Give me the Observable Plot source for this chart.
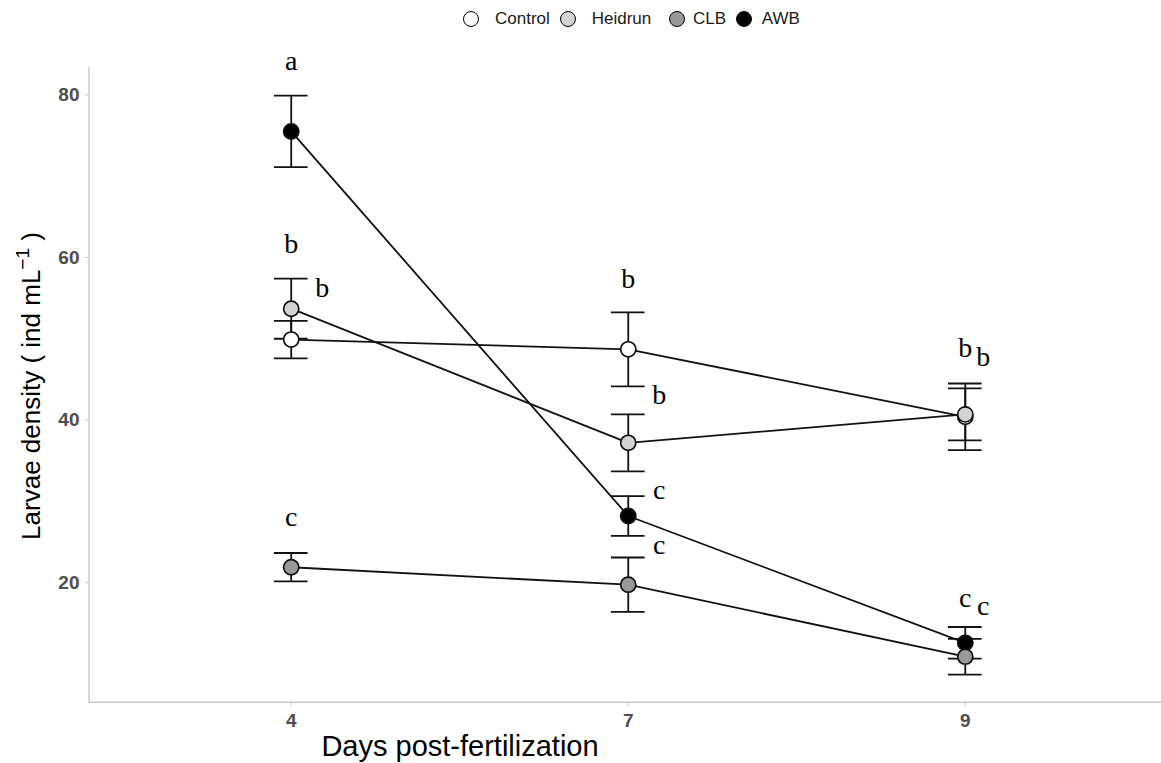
<!DOCTYPE html>
<html>
<head>
<meta charset="utf-8">
<script src="https://cdn.jsdelivr.net/npm/d3@7"></script>
<script src="https://cdn.jsdelivr.net/npm/@observablehq/plot@0.6"></script>
<style>
  html, body { margin: 0; padding: 0; background: #fff; overflow: hidden; }
  #legend { position: relative; width: 1161px; height: 40px; font-family: "Liberation Sans", Arial, sans-serif; }
  #legend .key { position: absolute; width: 14px; height: 14px; border: 1.6px solid #000; border-radius: 50%; top: 10.5px; }
  #legend .lab { position: absolute; top: 8px; font-size: 17px; line-height: 22px; color: #1a1a1a; }
  #chart svg g[aria-label$="tick label"] text { font-size: 19px !important; font-weight: bold !important; }
</style>
</head>
<body>
<div id="legend"></div>
<div id="chart"></div>
<script>
// ---- data ----
const days = ["4", "7", "9"];
const seriesNames = ["Control", "Heidrun", "CLB", "AWB"];
const seriesFill = ["#ffffff", "#d3d3d3", "#999999", "#000000"];
const drawOrder = ["AWB", "CLB", "Control", "Heidrun"];

const controlMean = [49.9, 48.7, 40.4];
const controlSE   = [2.3, 4.55, 4.1];
const heidrunMean = [53.7, 37.2, 40.7];
const heidrunSE   = [3.7, 3.5, 3.2];
const clbMean     = [21.9, 19.75, 10.9];
const clbSE       = [1.75, 3.35, 2.2];
const awbMean     = [75.5, 28.2, 12.6];
const awbSE       = [4.4, 2.45, 1.95];

const yTicks = [20, 40, 60, 80];

// significance letters (value = letter baseline, data units)
const labelDay    = ["4", "4", "4", "4", "7", "7", "7", "7", "9", "9", "9", "9"];
const labelLetter = ["a", "b", "b", "c", "b", "b", "c", "c", "b", "b", "c", "c"];
const labelValue  = [83.1, 60.6, 55.1, 27.0, 56.3, 42.0, 30.3, 23.5, 47.8, 46.7, 17.0, 16.0];
const labelPlace  = ["above", "above", "beside", "above", "above", "beside", "beside", "beside", "above", "near", "above", "near"];

// ---- build table ----
const means = {Control: controlMean, Heidrun: heidrunMean, CLB: clbMean, AWB: awbMean};
const ses = {Control: controlSE, Heidrun: heidrunSE, CLB: clbSE, AWB: awbSE};
const fillOf = Object.fromEntries(seriesNames.map((s, i) => [s, seriesFill[i]]));
const rows = [];
for (const s of drawOrder) {
  days.forEach((d, i) => {
    rows.push({series: s, pos: i + 1, mean: means[s][i], lo: means[s][i] - ses[s][i], hi: means[s][i] + ses[s][i]});
  });
}
const labels = labelDay.map((d, i) => ({pos: days.indexOf(d) + 1, letter: labelLetter[i], value: labelValue[i], place: labelPlace[i]}));
const placeDx = {above: 0, beside: 31, near: 18};

const yMin = 5.3, yMax = 83.4, xMin = 0.4, xMax = 3.6;
const capHalf = 0.05;
const ink = "#111111";
const axisGray = "#c8c8c8";
const sw = 1.8;

const chart = Plot.plot({
  width: 1161,
  height: 723,
  marginLeft: 88.5,
  marginRight: 0,
  marginTop: 26.7,
  marginBottom: 61.3,
  style: {background: "white", fontFamily: "Liberation Sans, Arial, sans-serif", overflow: "visible"},
  x: {type: "linear", domain: [xMin, xMax], range: [88.5, 1167]},
  y: {domain: [yMin, yMax]},
  marks: [
    Plot.ruleY([yMin], {x1: xMin, x2: xMax, stroke: axisGray, strokeWidth: 1.4}),
    Plot.ruleX([xMin], {y1: yMin, y2: yMax, stroke: axisGray, strokeWidth: 1.4}),
    Plot.axisY({ticks: yTicks, tickSize: 3.5, tickPadding: 6, stroke: axisGray, fill: "#4d4d4d",
      fontSize: 19, fontWeight: "bold", label: null}),
    Plot.axisX({ticks: [1, 2, 3], tickFormat: d => days[d - 1], tickSize: 4, tickPadding: 7,
      stroke: axisGray, fill: "#4d4d4d", fontSize: 19, fontWeight: "bold", label: null}),
    Plot.line(rows, {x: "pos", y: "mean", z: "series", stroke: ink, strokeWidth: sw}),
    Plot.ruleX(rows, {x: "pos", y1: "lo", y2: "hi", stroke: ink, strokeWidth: sw}),
    Plot.ruleY(rows, {y: "hi", x1: d => d.pos - capHalf, x2: d => d.pos + capHalf, stroke: ink, strokeWidth: sw}),
    Plot.ruleY(rows, {y: "lo", x1: d => d.pos - capHalf, x2: d => d.pos + capHalf, stroke: ink, strokeWidth: sw}),
    Plot.dot(rows, {x: "pos", y: "mean", r: 7.6, fill: d => fillOf[d.series], stroke: ink, strokeWidth: 1.7}),
    Plot.text(labels, {x: "pos", y: "value", text: "letter", lineAnchor: "bottom",
      fontFamily: "Liberation Serif, Times New Roman, serif", fontSize: 28, fill: "#000"})
  ]
});

document.getElementById("chart").appendChild(chart);

// letters offset (per placement)
{
  const texts = d3.select(chart).selectAll("g[aria-label='text'] text").nodes();
  texts.forEach((t, i) => {
    const dx = placeDx[labels[i].place];
    const tr = t.getAttribute("transform");
    t.setAttribute("transform", (tr || "") + ` translate(${dx},0)`);
  });
}

const svg = d3.select(chart);
// y axis title
const yt = svg.append("text")
  .attr("transform", "translate(40,346) rotate(-90)")
  .attr("text-anchor", "middle")
  .attr("font-family", "Liberation Sans, Arial, sans-serif")
  .attr("font-size", 26)
  .attr("fill", "#000");
yt.append("tspan").text("Larvae density ( ind mL");
yt.append("tspan").attr("dy", -11).attr("font-size", 19).text("\u22121");
yt.append("tspan").attr("dy", 11).text(" )");
// x axis title
svg.append("text")
  .attr("x", 460).attr("y", 716)
  .attr("text-anchor", "middle")
  .attr("font-family", "Liberation Sans, Arial, sans-serif")
  .attr("font-size", 29)
  .attr("fill", "#000")
  .text("Days post-fertilization");

// legend
const keyX = [471.5, 568.5, 677.5, 744.5];
const labX = [495, 591.7, 693, 761.7];
const leg = document.getElementById("legend");
seriesNames.forEach((s, i) => {
  const k = document.createElement("div");
  k.className = "key";
  k.style.left = (keyX[i] - 8.6) + "px";
  k.style.background = seriesFill[i];
  leg.appendChild(k);
  const l = document.createElement("div");
  l.className = "lab";
  l.style.left = labX[i] + "px";
  l.textContent = s;
  leg.appendChild(l);
});
</script>
</body>
</html>
